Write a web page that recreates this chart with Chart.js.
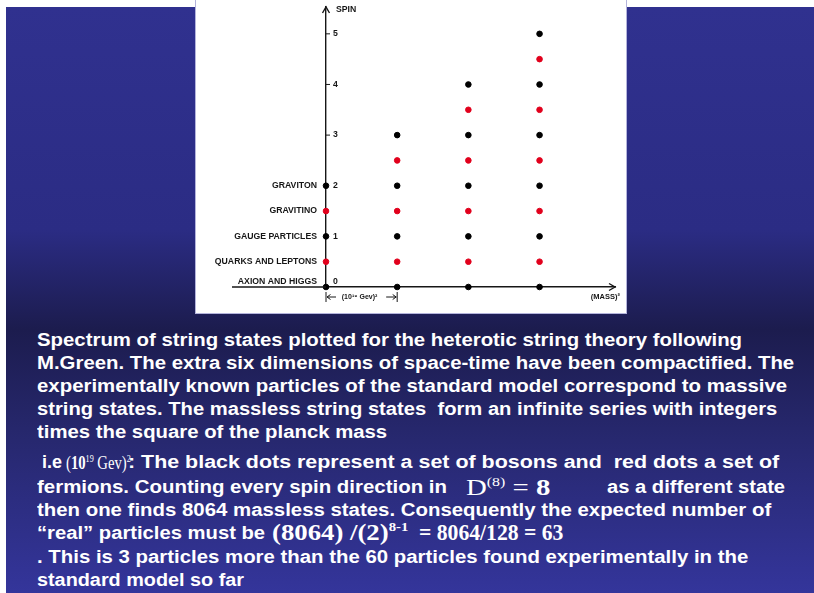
<!DOCTYPE html>
<html>
<head>
<meta charset="utf-8">
<script src="https://cdn.jsdelivr.net/npm/chart.js@4.4.1/dist/chart.umd.min.js"></script>
<style>
    html, body { margin: 0; padding: 0; background: #fff; }
    #slide {
        position: absolute; left: 6px; top: 7px; width: 808px; height: 586px;
        background: linear-gradient(to bottom, #30318f 0%, #2b2c84 38%, #1c1c4e 55%, #26276c 72%, #34359b 100%);
        overflow: hidden;
    }
    #box {
        position: absolute; left: 196px; top: 0; width: 430px; height: 313px;
        background: #fff; box-shadow: 0 0 0 1px #b4b4dc;
    }
    .t, .m { position: absolute; color: #fff; white-space: pre; line-height: 23px; transform-origin: 0 50%; }
    .t { font-family: "Liberation Sans", Arial, sans-serif; font-weight: bold; font-size: 18px; }
    .m { font-family: "Liberation Serif", "Times New Roman", serif; }
    sup { font-size: 55%; line-height: 0; }
</style>
</head>
<body>
<div id="slide"></div>
<div id="box"><canvas id="spectrum" width="430" height="313"></canvas></div>
<div id="caption"></div>
<script>
// mass levels in units of (10^19 GeV)^2 and spins of the states
const bosonMass = [0, 0, 0, 1, 1, 1, 1, 2, 2, 2, 2, 2, 3, 3, 3, 3, 3, 3];
const bosonSpin = [0, 1, 2, 0, 1, 2, 3, 0, 1, 2, 3, 4, 0, 1, 2, 3, 4, 5];
const fermionMass = [0, 0, 1, 1, 1, 2, 2, 2, 2, 3, 3, 3, 3, 3];
const fermionSpin = [0.5, 1.5, 0.5, 1.5, 2.5, 0.5, 1.5, 2.5, 3.5, 0.5, 1.5, 2.5, 3.5, 4.5];
const stateNames = ['AXION AND HIGGS', 'QUARKS AND LEPTONS', 'GAUGE PARTICLES', 'GRAVITINO', 'GRAVITON'];
const nameSpins = [0, 0.5, 1, 1.5, 2];
const spinTicks = [0, 1, 2, 3, 4, 5];

const ink = '#161616';
const labelFont = 'bold 8.7px "Liberation Sans", Arial, sans-serif';

const toPoints = (xs, ys) => xs.map((m, i) => ({ x: m, y: ys[i] }));

const arrowHead = (ctx, x, y, dx, dy) => {
    // open arrow head pointing along (dx, dy)
    const len = 6, half = 3.5;
    const px = -dy, py = dx;
    ctx.beginPath();
    ctx.moveTo(x - dx * len + px * half, y - dy * len + py * half);
    ctx.lineTo(x, y);
    ctx.lineTo(x - dx * len - px * half, y - dy * len - py * half);
    ctx.stroke();
};

const axisExtras = {
    id: 'axisExtras',
    afterDraw(chart) {
        const { ctx, scales: { x, y } } = chart;
        const x0 = x.getPixelForValue(0), y0 = y.getPixelForValue(0);
        const x1 = x.getPixelForValue(1);
        const yTop = y.getPixelForValue(y.max), xEnd = x.getPixelForValue(x.max);
        ctx.save();
        ctx.strokeStyle = ink;
        ctx.fillStyle = ink;
        ctx.lineWidth = 1.4;

        // axis line runs on under the left-hand labels
        ctx.beginPath();
        ctx.moveTo(36, y0);
        ctx.lineTo(x0, y0);
        ctx.stroke();
        arrowHead(ctx, x0, yTop, 0, -1);
        arrowHead(ctx, xEnd, y0, 1, 0);

        ctx.font = labelFont;
        ctx.textBaseline = 'middle';

        // names of the massless states, left of the spin axis
        ctx.textAlign = 'right';
        nameSpins.forEach((v, i) => {
            const py = y.getPixelForValue(v) - (v === 0 ? 5 : 0);
            ctx.fillText(stateNames[i], x0 - 9, py);
        });

        ctx.textAlign = 'left';
        spinTicks.forEach(v => {
            const py = y.getPixelForValue(v) - (v === 0 ? 5 : 0);
            ctx.fillText(String(v), x0 + 7, py);
            if (v >= 3) {
                ctx.lineWidth = 1;
                ctx.beginPath();
                ctx.moveTo(x0, py);
                ctx.lineTo(x0 + 4, py);
                ctx.stroke();
            }
        });
        ctx.fillText('SPIN', x0 + 10, yTop + 3);

        // unit interval under the axis
        const uy = y0 + 10;
        ctx.font = 'bold 7px "Liberation Sans", Arial, sans-serif';
        ctx.lineWidth = 1;
        ctx.beginPath();
        ctx.moveTo(x0, uy - 5); ctx.lineTo(x0, uy + 5);
        ctx.moveTo(x1, uy - 5); ctx.lineTo(x1, uy + 5);
        ctx.moveTo(x0 + 1, uy); ctx.lineTo(x0 + 10, uy);
        ctx.moveTo(x1 - 11, uy); ctx.lineTo(x1 - 1, uy);
        ctx.stroke();
        const ah = (px, dir) => {
            ctx.beginPath();
            ctx.moveTo(px + dir * 3.5, uy - 2.5);
            ctx.lineTo(px, uy);
            ctx.lineTo(px + dir * 3.5, uy + 2.5);
            ctx.stroke();
        };
        ah(x0 + 1, 1);
        ah(x1 - 1, -1);
        ctx.textAlign = 'center';
        ctx.fillText('(10¹⁹ Gev)²', (x0 + x1) / 2 - 2, uy);
        ctx.textAlign = 'right';
        ctx.font = 'bold 7.5px "Liberation Sans", Arial, sans-serif';
        ctx.fillText('(MASS)²', xEnd + 5, uy);
        ctx.restore();
    }
};

new Chart(document.getElementById('spectrum'), {
    type: 'scatter',
    data: {
        datasets: [
            {
                label: 'bosons',
                data: toPoints(bosonMass, bosonSpin),
                backgroundColor: '#000',
                borderColor: '#000',
                pointRadius: 2.8,
                clip: false
            },
            {
                label: 'fermions',
                data: toPoints(fermionMass, fermionSpin),
                backgroundColor: '#e1001c',
                borderColor: '#e1001c',
                pointRadius: 2.8,
                clip: false
            }
        ]
    },
    options: {
        responsive: false,
        animation: false,
        devicePixelRatio: 1,
        layout: { padding: { top: 7, right: 11, left: 0, bottom: 0 } },
        plugins: { legend: { display: false }, tooltip: { enabled: false } },
        scales: {
            x: {
                type: 'linear', min: 0, max: 4.06,
                grid: { display: false },
                border: { display: true, color: ink, width: 1.4 },
                ticks: { display: false },
                afterFit: s => { s.height = 26; }
            },
            y: {
                type: 'linear', min: 0, max: 5.53,
                grid: { display: false },
                border: { display: true, color: ink, width: 1.4 },
                ticks: { display: false },
                afterFit: s => { s.width = 130; }
            }
        }
    },
    plugins: [axisExtras]
});

// caption text, placed line by line as on the slide; each piece is
// stretched to the span it covers in the original
const caption = document.getElementById('caption');
const put = (cls, left, right, top, html, size) => {
    const d = document.createElement('div');
    d.className = cls;
    d.style.left = left + 'px';
    d.style.top = top + 'px';
    if (size) d.style.fontSize = size + 'px';
    d.innerHTML = html;
    caption.appendChild(d);
    d.style.transform = 'scaleX(' + ((right - left) / d.offsetWidth).toFixed(4) + ')';
};

put('t', 37, 742, 329, 'Spectrum of string states plotted for the heterotic string theory following');
put('t', 37, 794, 352, 'M.Green. The extra six dimensions of space-time have been compactified. The');
put('t', 37, 787, 375, 'experimentally known particles of the standard model correspond to massive');
put('t', 37, 777, 398, 'string states. The massless string states  form an infinite series with integers');
put('t', 37, 387, 421, 'times the square of the planck mass');

put('t', 42, 62, 451, 'i.e');
put('m', 66, 131, 451, '(<b>10</b><sup>19</sup> Gev)<sup>2</sup>', 19);
put('t', 128, 779, 451, ': The black dots represent a set of bosons and  red dots a set of');
put('t', 37, 447, 476, 'fermions. Counting every spin direction in');
put('m', 466, 550, 476, 'D<sup>(8)</sup> = <b>8</b>', 24);
put('t', 607, 785, 476, 'as a different state');
put('t', 37, 771, 499, 'then one finds 8064 massless states. Consequently the expected number of');
put('t', 37, 265, 522, '“real” particles must be');
put('m', 272, 408, 521, '<b>(8064) /(2)<sup>8-1</sup></b>', 24);
put('m', 419, 563, 521, '<b>= 8064/128 = 63</b>', 23);
put('t', 37, 748, 546, '. This is 3 particles more than the 60 particles found experimentally in the');
put('t', 37, 244, 569, 'standard model so far');
</script>
</body>
</html>
